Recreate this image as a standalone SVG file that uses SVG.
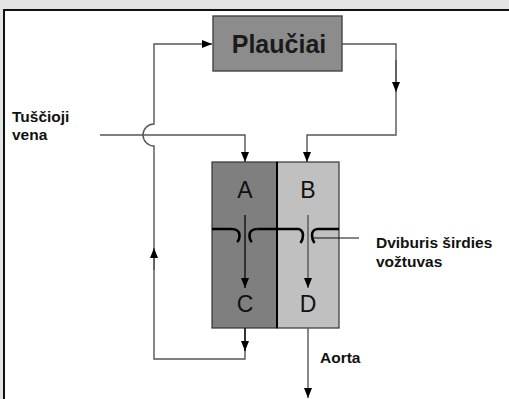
<svg xmlns="http://www.w3.org/2000/svg" width="509" height="399" viewBox="0 0 509 399">
<defs>
<marker id="ah" viewBox="0 0 10 8" refX="10" refY="4" markerWidth="11" markerHeight="8" markerUnits="userSpaceOnUse" orient="auto">
<path d="M0,0 L10,4 L0,8 Z" fill="#000"/>
</marker>
<style>
.lbl{font-family:"Liberation Sans",Arial,sans-serif;font-weight:bold;font-size:15.5px;fill:#111}
.ch{font-family:"Liberation Sans",Arial,sans-serif;font-size:23px;fill:#111;text-anchor:middle}
.ln{fill:none;stroke:#555;stroke-width:1.4}
.blk{fill:none;stroke:#111;stroke-width:1.4}
.valve{fill:none;stroke:#000;stroke-width:2.6}
</style>
</defs>
<rect x="0" y="0" width="509" height="399" fill="#e4e4e4"/>
<rect x="4" y="10" width="520" height="400" fill="#fff" stroke="#111" stroke-width="2"/>

<g id="lungs">
<rect x="213" y="16" width="129" height="55" fill="#8c8c8c" stroke="#444" stroke-width="1.4"/>
<text x="279" y="53" font-family="'Liberation Sans',Arial,sans-serif" font-size="25" font-weight="bold" fill="#1a1a1a" text-anchor="middle">Plaučiai</text>
</g>

<g id="heart">
<rect x="212" y="162" width="65" height="166" fill="#7f7f7f" stroke="#333" stroke-width="1.2"/>
<rect x="277" y="162" width="62" height="166" fill="#c0c0c0" stroke="#333" stroke-width="1.2"/>
<line x1="277" y1="162" x2="277" y2="328" stroke="#000" stroke-width="2"/>
<g id="valves">
<path class="valve" d="M212,229 H231.5 C236,229 239.5,231 239.5,235 C239.5,239 238.5,241 237,242"/>
<path class="valve" d="M298,229 C300,229 303,231 303,235 C303,239 302,241 300.5,243"/>
<path class="valve" d="M257.5,229 C253,229 249.5,231 249.5,235 C249.5,239 250.5,241 252,242"/>
<path class="valve" d="M257.5,229 H298"/>
<path class="valve" d="M339,229 H318 C315,229 312,231 312,235 C312,239 313,241 314.5,243"/>
</g>
<g id="chamberA"><text class="ch" x="245" y="198">A</text></g>
<g id="chamberB"><text class="ch" x="308" y="198">B</text></g>
<g id="chamberC"><text class="ch" x="245" y="312">C</text></g>
<g id="chamberD"><text class="ch" x="308" y="312">D</text></g>
</g>

<g id="label-vena">
<text class="lbl" x="12" y="122">Tuščioji</text>
<text class="lbl" x="12" y="140">vena</text>
</g>
<g id="label-valve">
<text class="lbl" x="376" y="248" font-size="16">Dviburis širdies</text>
<text class="lbl" x="376" y="267" font-size="16">vožtuvas</text>
</g>
<g id="label-aorta">
<text class="lbl" x="320" y="363">Aorta</text>
</g>

<g id="connectors">
<path class="ln" d="M245,328 V359 H154 V146 A11,11 0 0 1 154,124 V44 H212" marker-end="url(#ah)"/>
<path class="blk" d="M245,328 V351" marker-end="url(#ah)"/>
<path class="ln" d="M154,270 V248" marker-end="url(#ah)"/>
<path class="ln" d="M342,44 H396 V135 H307 V162" marker-end="url(#ah)"/>
<path class="ln" d="M396,60 V92" marker-end="url(#ah)"/>
<path class="ln" d="M100,135 H245 V162" marker-end="url(#ah)"/>
<path class="ln" d="M308,328 V398" marker-end="url(#ah)"/>
<path class="blk" d="M245,215 V288" marker-end="url(#ah)"/>
<path class="ln" d="M308,215 V288" marker-end="url(#ah)"/>
<path d="M313,238 H359" stroke="#111" stroke-width="1.2" fill="none"/>
</g>
</svg>
